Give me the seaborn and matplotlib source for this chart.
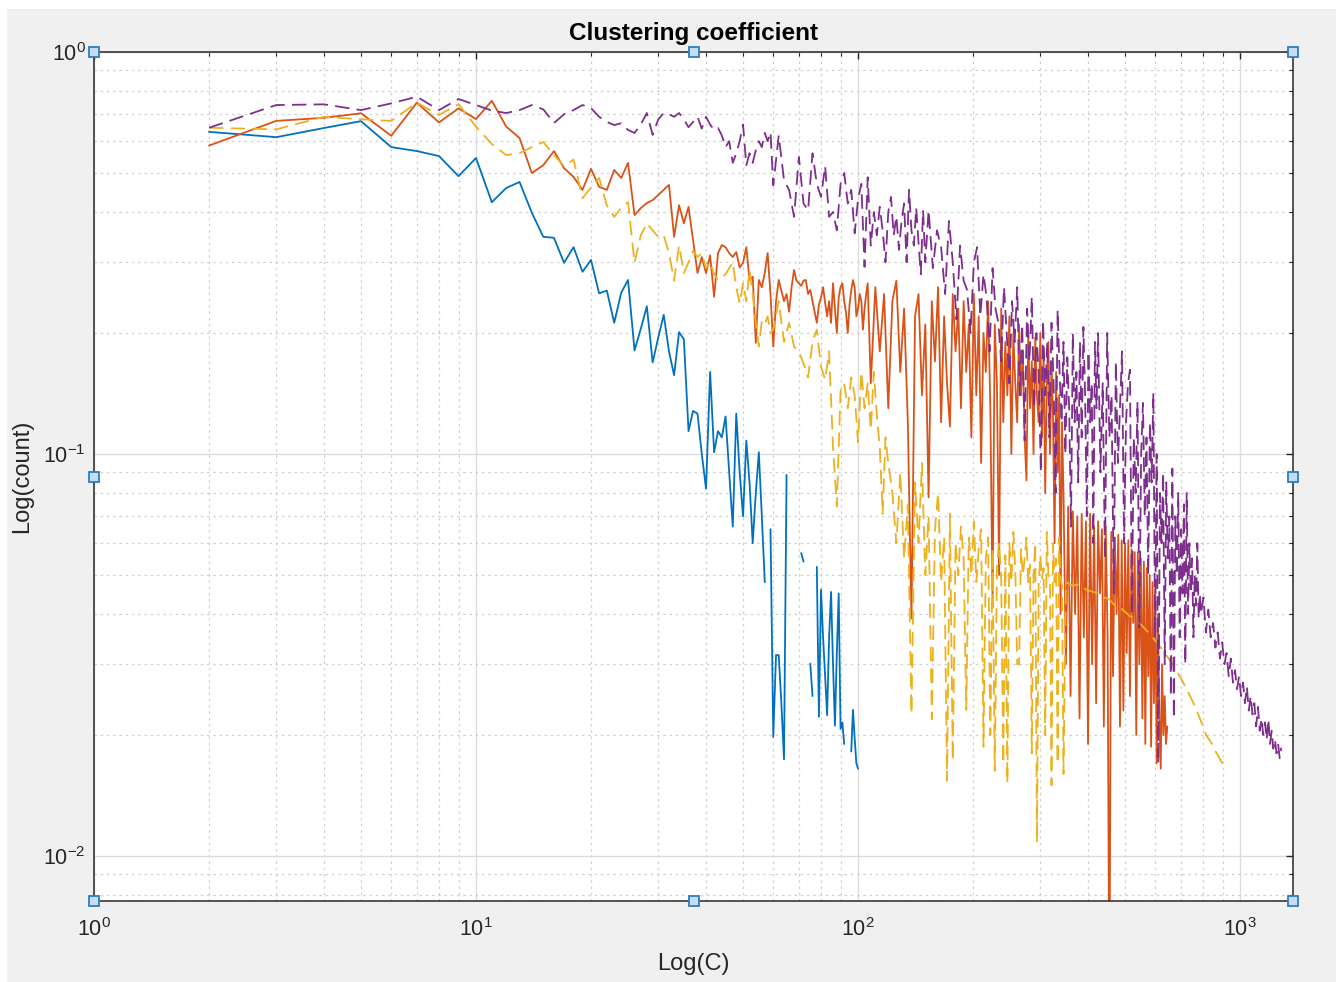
import numpy as np
import pandas as pd
import matplotlib
matplotlib.use("Agg")
import matplotlib.pyplot as plt
from matplotlib.patches import Rectangle
from matplotlib.ticker import LogLocator, NullFormatter
import seaborn as sns

nan = np.nan
# ---- data (y values in thousandths; nan = empty bin / gap) ----
blue_x = list(range(2, 101))
blue_y = [633, 614, 647, 673, 580, 567, 551, 491, 545, 423,
          459, 475, 398, 347, 345, 299, 327, 284, 304, 251,
          255, 212, 252, 271, 181, 205, 233, 169, 195, 222,
          180, 157, 201, 193, 114, 128, 126, 100, 82, 160,
          101, 114, 110, 124, 90, 66, 126, 90, 70, 108,
          85, 60, 80, 101, 70, 48, nan, 65, 19.8, 31.6,
          31.6, 24, 17.4, 88.7, nan, nan, nan, nan, nan, 56.7,
          54, nan, nan, 30.1, 25, nan, 52.4, 22.2, 46, 35,
          28, 22.4, 35, 45.4, 30, 21.1, 32, 45, 20.7, 21.5,
          19, nan, nan, nan, 18.2, 23.1, 19.6, 17, 16.5]

orange_x = list(range(2, 107)) + list(range(108, 343, 3)) + list(range(345, 646, 5))
orange_y = [585, 674, 686, 704, 619, 748, 668, 724, 681, 756,
            652, 611, 500, 523, 567, 514, 489, 454, 512, 462,
            454, 509, 486, 530, 393, 409, 421, 428, 441, 454,
            467, 347, 416, 375, 412, 340, 282, 309, 282, 312,
            246, 316, 331, 327, 316, 309, 318, 291, 299, 327,
            271, 276, 189, 271, 260, 282, 316, 250, 185, 240,
            271, 255, 240, 250, 226, 260, 287, 270, 266, 262,
            270, 271, 250, 256, 240, 225, 212, 235, 245, 260,
            238, 220, 240, 212, 266, 230, 200, 245, 260, 266,
            240, 225, 200, 235, 255, 271, 260, 220, 230, 250,
            240, 204, 230, 250, 266,
            150, 260, 180, 250, 130, 240, 270, 160, 230, 120,
            39, 220, 250, 140, 210, 78, 240, 170, 260, 120,
            220, 150, 117, 250, 180, 230, 130, 240, 160, 210,
            110, 250, 140, 220, 95, 200, 160, 240, 130, 43,
            210, 150, 50, 230, 120, 190, 140, 220, 100, 200,
            150, 120, 210, 140, 180, 110, 86, 200, 130, 170,
            100, 195, 140, 120, 200, 110, 180, 80, 150, 190,
            100, 170, 120, 60, 160, 90, 140, 40, 120,
            80, 30, 74, 25, 72, 40, 70, 22, 71, 35,
            68, 19, 71, 30, 66, 24, 68, 45, 65, 21,
            66, 35, 4, 64, 28, 62, 40, 63, 21, 61,
            23, 60, 32, 61, 25, 58, 38, 57, 20, 57,
            30, 55, 22, 54, 19, 52, 28, 50, 18.7, 48,
            24, 46, 17, 40, 22, 16.5, 30, 20, 25, 19,
            21]

yellow_x = (list(range(2, 61)) + list(range(62, 121, 2))
            + list(range(123, 346, 3)) + list(range(350, 921, 15)))
yellow_y = [648, 642, 690, 680, 674, 748, 697, 742, 652, 590,
            554, 560, 580, 597, 554, 520, 540, 433, 460, 486,
            416, 389, 410, 423, 299, 350, 375, 360, 347, 350,
            316, 270, 330, 282, 300, 320, 309, 316, 290, 300,
            280, 271, 275, 280, 290, 300, 260, 237, 266, 240,
            287, 250, 212, 185, 214, 210, 220, 200, 204,
            240, 190, 212, 185, 180, 168, 155, 190, 204, 165,
            153, 180, 104, 74, 144, 150, 130, 155, 140, 107,
            160, 130, 150, 115, 160, 125, 104, 71, 110, 95,
            80, 60, 90, 55, 75, 22.6, 85, 60, 95, 50,
            70, 21.9, 65, 80, 48, 62, 15.4, 71, 17.3, 60,
            50, 66, 55, 23.1, 62, 50, 68, 48, 58, 65,
            18.7, 55, 62, 20, 58, 16.3, 52, 60, 49, 17,
            56, 15.2, 60, 48, 64, 52, 30, 30, 58, 50,
            55, 62, 48, 53, 18, 50, 60, 10.8, 47, 56,
            49, 52, 20, 64, 50, 49, 15, 60, 48, 55,
            17, 62, 49, 47, 16,
            48, 47, 47.5, 46, 45.5, 45, 44, 43.5, 42, 41.5,
            40.5, 39.5, 39, 38, 37, 36, 35, 34, 33, 32,
            31, 30, 29, 28, 27, 26, 25, 24, 23, 22,
            21, 20, 19.5, 19, 18.3, 17.8, 17.3, 16.8, 16.5]

purple_x = (list(range(2, 61)) + list(range(62, 151, 2)) + list(range(153, 422, 4))
            + list(range(425, 786, 6)) + list(range(790, 1283, 12)))
purple_y = [648, 738, 741, 717, 745, 774, 717, 764, 738, 715,
            705, 717, 738, 720, 666, 700, 717, 738, 725, 690,
            670, 658, 665, 640, 629, 660, 705, 622, 680, 705,
            700, 690, 705, 680, 650, 670, 690, 645, 690, 660,
            640, 647, 620, 580, 600, 530, 560, 600, 660, 523,
            560, 530, 570, 600, 580, 629, 600, 632, 466,
            620, 480, 454, 389, 548, 420, 404, 560, 470, 436,
            520, 389, 400, 360, 470, 500, 420, 454, 354, 430,
            470, 292, 488, 330, 400, 350, 412, 360, 300, 400,
            436, 350, 390, 322, 380, 420, 300, 454, 360, 330,
            410, 335, 280, 404, 300,
            404, 290, 360, 327, 250, 380, 300, 216, 330, 270,
            256, 200, 300, 327, 220, 280, 246, 180, 290, 230,
            212, 170, 260, 200, 150, 240, 190, 260, 140, 210,
            108, 230, 170, 246, 130, 200, 160, 90, 215, 140,
            190, 110, 212, 150, 80, 228, 160, 120, 190, 100,
            174, 130, 66, 200, 120, 160, 85, 190, 110, 207,
            140, 70, 180, 120, 150, 60, 190, 130,
            200, 90, 150, 55, 200, 110, 140, 45, 170, 95,
            130, 180, 60, 120, 150, 162, 40, 110, 80, 135,
            37, 100, 134, 70, 110, 50, 120, 85, 142, 35,
            100, 17, 80, 60, 90, 30, 85, 55, 70, 25,
            92, 22, 70, 50, 80, 35, 65, 45, 75, 30,
            80, 40, 60, 45, 55, 35, 50, 42, 60, 39,
            45,
            40, 44, 36, 41, 35, 38, 33, 36, 31, 34,
            30, 32, 28, 31, 27, 29, 26, 28, 25, 27,
            24, 26.4, 23, 25, 22.5, 24, 21, 23.5, 20.5, 22,
            20, 21.5, 19.5, 21.9, 19, 20.5, 18.5, 19.5, 18, 19,
            17.5, 18.6]

x_limits = (1, 1376)
y_limits = (0.00773, 1)


def frame(xs, ys):
    n = min(len(xs), len(ys))
    y = np.asarray(ys[:n], float) / 1000.0
    x = np.asarray(xs[:n], float)
    seg = np.cumsum(np.isnan(y))
    return pd.DataFrame({"x": x, "y": y, "seg": seg}).dropna()


sns.set_style("white")
plt.rcParams["font.family"] = ["Liberation Sans", "DejaVu Sans"]
plt.rcParams["axes.unicode_minus"] = False

fig = plt.figure(figsize=(13.36, 9.82), dpi=100)
fig.patch.set_facecolor("white")
fig.add_artist(Rectangle((7 / 1336, 0), 1 - 7 / 1336, (982 - 9) / 982,
                         transform=fig.transFigure, facecolor="#f0f0f0",
                         edgecolor="none", zorder=-10))
ax = fig.add_axes([94 / 1336, (982 - 901) / 982, (1293 - 94) / 1336, (901 - 52) / 982])
ax.set_facecolor("white")
ax.set_xscale("log")
ax.set_yscale("log")

series = [
    (blue_x, blue_y, "#0072BD", "-"),
    (orange_x, orange_y, "#D95319", "-"),
    (yellow_x, yellow_y, "#EDB120", (0, (8, 4))),
    (purple_x, purple_y, "#7E2F8E", (0, (8, 4))),
]
for xs, ys, col, ls in series:
    df = frame(xs, ys)
    sns.lineplot(data=df, x="x", y="y", units="seg", estimator=None, sort=False,
                 color=col, linewidth=1.3, linestyle=ls, ax=ax, legend=False)

ax.set_xlim(*x_limits)
ax.set_ylim(*y_limits)

for axis in (ax.xaxis, ax.yaxis):
    axis.set_major_locator(LogLocator(base=10, numticks=12))
    axis.set_minor_locator(LogLocator(base=10, subs=np.arange(2, 10), numticks=40))
    axis.set_minor_formatter(NullFormatter())

ax.grid(True, which="major", color="#dcdcdc", linewidth=1.0, linestyle="-")
ax.grid(True, which="minor", color="#d0d0d0", linewidth=0.9, linestyle=(0, (2, 3)))
ax.set_axisbelow(True)

ax.tick_params(which="both", direction="in", top=True, right=True,
               colors="#262626", labelcolor="#262626")
ax.tick_params(which="major", length=5, width=1.0, labelsize=15.5)
ax.tick_params(which="minor", length=3, width=0.8)
ax.tick_params(axis="x", which="major", pad=12)
ax.tick_params(axis="y", which="major", pad=6)
for sp in ax.spines.values():
    sp.set_color("#262626")
    sp.set_linewidth(1.1)

ax.set_title("Clustering coefficient", fontsize=17.5, fontweight="bold", pad=8.5, color="black")
ax.set_xlabel("Log(C)", fontsize=17, color="#262626", labelpad=9)
ax.set_ylabel("Log(count)", fontsize=17, color="#262626", labelpad=7)

# selection handles (edit-mode squares) around the axes box
hx = [0, 0.5, 1, 0, 1, 0, 0.5, 1]
hy = [1, 1, 1, 0.5, 0.5, 0, 0, 0]
ax.plot(hx, hy, transform=ax.transAxes, linestyle="none", marker="s", markersize=7,
        markerfacecolor="#c6dcf0", markeredgecolor="#2d7dc0", markeredgewidth=1.3,
        clip_on=False, zorder=10)

fig.savefig("out.png", dpi=100, facecolor=fig.get_facecolor())
